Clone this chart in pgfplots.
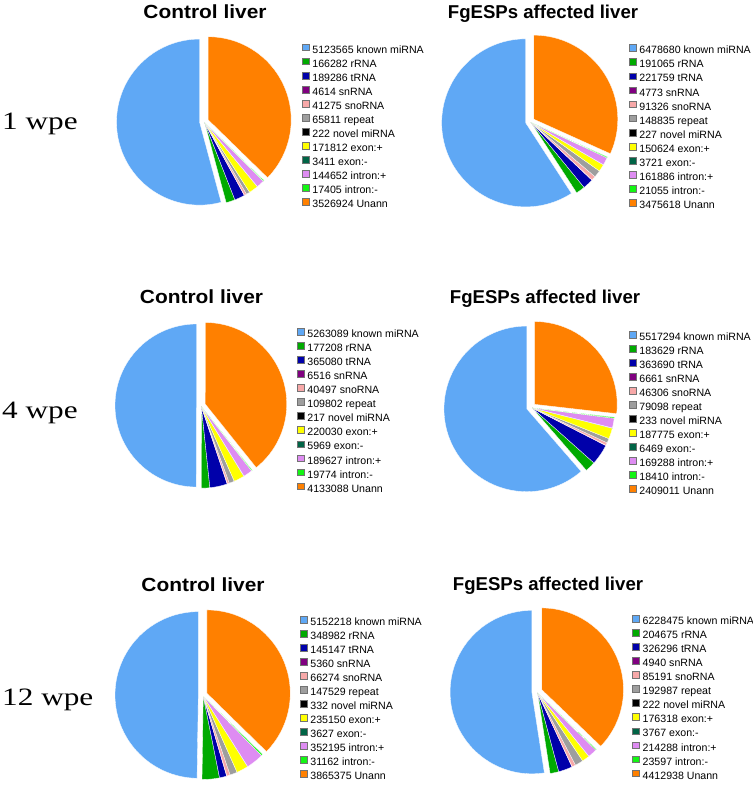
\documentclass[border=0pt]{standalone}
\usepackage{graphicx}
\usepackage{pgfplots}
\usepackage{pgfplotstable}
\pgfplotsset{compat=1.18}
\usepackage{fontspec}
\setmainfont{Liberation Sans}
\newfontfamily\seriff{Liberation Serif}

\definecolor{pc1}{RGB}{95,168,245}
\definecolor{pc2}{RGB}{0,170,0}
\definecolor{pc3}{RGB}{0,0,170}
\definecolor{pc4}{RGB}{128,0,128}
\definecolor{pc5}{RGB}{247,168,168}
\definecolor{pc6}{RGB}{158,158,158}
\definecolor{pc7}{RGB}{0,0,0}
\definecolor{pc8}{RGB}{255,255,0}
\definecolor{pc9}{RGB}{0,100,70}
\definecolor{pc10}{RGB}{222,140,242}
\definecolor{pc11}{RGB}{20,245,20}
\definecolor{pc12}{RGB}{255,128,0}

\pgfplotstableread[col sep=comma,row sep=\\]{
type,w1c,w1f,w4c,w4f,w12c,w12f\\
known miRNA,5123565,6478680,5263089,5517294,5152218,6228475\\
rRNA,166282,191065,177208,183629,348982,204675\\
tRNA,189286,221759,365080,363690,145147,326296\\
snRNA,4614,4773,6516,6661,5360,4940\\
snoRNA,41275,91326,40497,46306,66274,85191\\
repeat,65811,148835,109802,79098,147529,192987\\
novel miRNA,222,227,217,233,332,222\\
exon:+,171812,150624,220030,187775,235150,176318\\
exon:-,3411,3721,5969,6469,3627,3767\\
intron:+,144652,161886,189627,169288,352195,214288\\
intron:-,17405,21055,19774,18410,31162,23597\\
Unann,3526924,3475618,4133088,2409011,3865375,4412938\\
}\pietab

\pgfplotsset{pieax/.style={hide axis, clip=false,
  xmin=-1.2,xmax=1.2,ymin=-1.2,ymax=1.2, anchor=center,
  legend cell align=left,
  legend style={draw=none, fill=none, inner sep=0pt, outer sep=0pt,
    font=\fontsize{10.6}{12}\selectfont, row sep=2.1pt,
    nodes={inner xsep=3pt, inner ysep=0pt, text height=8pt, text depth=2.5pt}},
  legend image code/.code={\draw[##1, draw=black!55, line width=0.6pt] (0pt,-0.4pt) rectangle (6.8pt,6.4pt);}}}

% #1 cx, #2 cy, #3 R, #4 explode, #5 legend x, #6 legend first-row centre y, #7 column
\newcommand\piechart[7]{%
  \edef\lgx{\fpeval{((#5-#1)/#3+1.2)/2.4}}%
  \edef\lgy{\fpeval{((#2-#6+4.9)/#3+1.2)/2.4}}%
  \def\pT{0}%
  \pgfplotsforeachungrouped \ri in {0,...,11}{%
    \pgfplotstablegetelem{\ri}{#7}\of\pietab
    \expandafter\edef\csname pv\ri\endcsname{\pgfplotsretval}%
    \edef\pT{\fpeval{\pT+\pgfplotsretval}}%
    \pgfplotstablegetelem{\ri}{type}\of\pietab
    \expandafter\edef\csname pl\ri\endcsname{\pgfplotsretval}%
  }%
  \def\pC{0}%
  \expandafter\def\csname pa0\endcsname{90}%
  \pgfplotsforeachungrouped \ri in {0,...,11}{%
    \edef\pC{\fpeval{\pC+\csname pv\ri\endcsname}}%
    \expandafter\edef\csname pa\the\numexpr\ri+1\relax\endcsname{\fpeval{round(90+360*\pC/\pT,4)}}%
  }%
  \edef\dxA{\fpeval{round(#4/#3*cosd((\csname pa0\endcsname+\csname pa1\endcsname)/2),4)}}%
  \edef\dyA{\fpeval{round(#4/#3*sind((\csname pa0\endcsname+\csname pa1\endcsname)/2),4)}}%
  \edef\dxB{\fpeval{round(1.2/#3*cosd((\csname pa1\endcsname+\csname pa11\endcsname)/2),4)}}%
  \edef\dyB{\fpeval{round(1.2/#3*sind((\csname pa1\endcsname+\csname pa11\endcsname)/2),4)}}%
  \edef\dxC{\fpeval{round(#4/#3*cosd((\csname pa11\endcsname+\csname pa12\endcsname)/2),4)}}%
  \edef\dyC{\fpeval{round(#4/#3*sind((\csname pa11\endcsname+\csname pa12\endcsname)/2),4)}}%
  \begin{axis}[pieax, x=#3pt, y=#3pt, at={(#1pt,-#2pt)},
    legend style={at={(\lgx,\lgy)}, anchor=north west}]
  \pgfplotsforeachungrouped \ri in {0,...,11}{%
    \ifnum\ri=0 \let\ox\dxA\let\oy\dyA
    \else\ifnum\ri=11 \let\ox\dxC\let\oy\dyC
    \else\let\ox\dxB\let\oy\dyB\fi\fi
    \edef\pa{\csname pa\ri\endcsname}%
    \edef\pb{\csname pa\the\numexpr\ri+1\relax\endcsname}%
    \edef\ps{\fpeval{max(2,ceil((\pb-\pa)/2))}}%
    \edef\tmp{\noexpand\addplot[fill=pc\the\numexpr\ri+1\relax, draw=white, line width=0.3pt, domain=\pa:\pb, samples=\ps]
      ({\ox+cos(x)},{\oy+sin(x)}) -- (axis cs:\ox,\oy) -- cycle;
      \noexpand\addlegendentry{\csname pv\ri\endcsname\space\csname pl\ri\endcsname}}%
    \tmp
  }%
  \end{axis}%
}

\newcommand\ctitle[2]{\node[anchor=base, inner sep=0pt] at (#1) {\scalebox{1.1}[1]{\bfseries\fontsize{19}{22}\selectfont #2}};}
\newcommand\ftitle[2]{\node[anchor=base, inner sep=0pt] at (#1) {\bfseries\fontsize{18.6}{22}\selectfont #2};}
\newcommand\rlabel[2]{\node[anchor=base west, inner sep=0pt] at (#1) {\scalebox{1.25}[1]{\seriff\fontsize{25}{28}\selectfont #2}};}

\begin{document}
\begin{tikzpicture}
\useasboundingbox (0,0) rectangle (753pt,-788pt);
\piechart{204}{121.5}{83}{4.5}{302}{48.5}{w1c}
\piechart{530}{121.6}{84}{4.5}{629}{49.3}{w1f}
\piechart{201}{405.5}{81.5}{4.5}{297}{333}{w4c}
\piechart{531}{407.3}{82.8}{4.5}{629}{335.7}{w4f}
\piechart{202.8}{695}{83.3}{4.5}{300}{620.7}{w12c}
\piechart{537}{691.7}{81.7}{5.2}{632.3}{620}{w12f}
\ctitle{205pt,-18pt}{Control liver}
\ftitle{543pt,-18pt}{FgESPs affected liver}
\ctitle{201.5pt,-303pt}{Control liver}
\ftitle{545pt,-303pt}{FgESPs affected liver}
\ctitle{203pt,-591pt}{Control liver}
\ftitle{548pt,-590pt}{FgESPs affected liver}
\rlabel{2pt,-129pt}{1 wpe}
\rlabel{2pt,-418pt}{4 wpe}
\rlabel{2pt,-705pt}{12 wpe}
\end{tikzpicture}
\end{document}
